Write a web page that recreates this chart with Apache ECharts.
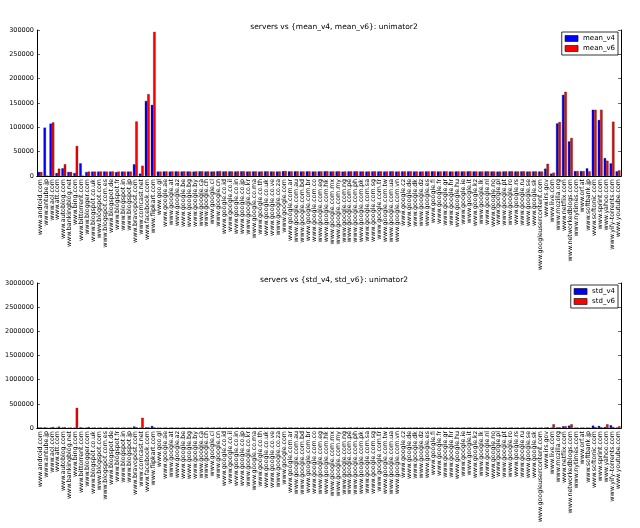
<!DOCTYPE html>
<html>
<head>
<meta charset="utf-8">
<script src="https://cdn.jsdelivr.net/npm/echarts@6/dist/echarts.min.js"></script>
<style>html,body{margin:0;padding:0;background:#fff}#c{width:640px;height:528px}</style>
</head>
<body>
<div id="c"></div>
<script>
var googleTlds = ['ae','at','az','be','bg','by','ca','ch','cl','cn','co.id','co.il','co.in','co.jp','co.kr','co.ma','co.th','co.uk','co.ve','co.za','com','com.ar','com.au','com.bd','com.br','com.co','com.eg','com.hk','com.mx','com.my','com.ng','com.pe','com.ph','com.pk','com.sa','com.sg','com.tr','com.tw','com.ua','com.vn','cz','de','dk','dz','es','fi','fr','gr','hr','hu','ie','it','kz','lk','nl','no','pl','pt','ro','rs','ru','se','sk'];
var categories = ['www.android.com','www.antube.jp','www.aol.com','www.att.com','www.autoblog.com','www.bankingblog.net','www.bing.com','www.bittorrent.com','www.blogger.com','www.blogspot.co.uk','www.blogspot.com','www.blogspot.com.es','www.blogspot.de','www.blogspot.fr','www.blogspot.in','www.blogspot.jp','www.bravopost.com','www.comcast.net','www.facebook.com','www.flipkart.com','www.goo.gl']
  .concat(googleTlds.map(function(t){return 'www.google.' + t;}))
  .concat(['www.googleusercontent.com','www.irs.gov','www.live.com','www.mozilla.org','www.netflix.com','www.networkedblogs.com','www.nytimes.com','www.orf.at','www.softbank.jp','www.softonic.com','www.sprint.com','www.yahoo.com','www.yify-torrents.com','www.youtube.com']);

var meanV4 = [8200,99300,107500,6000,15700,8200,6000,26000,8000,9000,
  9000,9200,9000,8000,9000,9100,24000,4800,154000,146000,
  9000,
  9200,9000,9400,9100,9300,9000,9500,9200,9100,9600,
  9300,9400,9200,9500,9100,9300,9000,9400,9200,9100,
  9800,9300,9500,9200,9400,9100,9300,9600,9200,9400,
  9000,9300,9500,9200,9100,9400,9300,9200,9500,9100,
  9300,9400,9200,9000,9300,9500,9200,9400,9100,9300,
  9200,9500,9300,9100,9400,9200,9000,9300,9500,9200,
  9400,9100,9300,
  9200,15000,4800,108000,166600,71000,10000,10000,15600,136000,115000,36700,25800,9500];
var meanV6 = [8200,0,110000,15000,24000,8200,61600,0,9000,9000,
  9200,9000,9300,9000,9100,9000,112000,21000,168000,296000,
  9000,
  9400,9300,9200,9500,9100,9400,9600,9300,9200,9800,
  9400,9300,9500,9600,9200,9400,9300,9500,9100,9300,
  10200,9400,9600,9300,9500,9300,9400,9800,9300,9500,
  9200,9400,9600,9300,9200,9500,9400,9300,9600,9200,
  9400,9500,9300,9200,9400,9600,9300,9500,9200,9400,
  9300,9600,9400,9200,9500,9300,9100,9400,9600,9300,
  9500,9200,9400,
  9100,25000,6800,111000,173000,78000,10000,10000,9500,136000,136000,31300,111500,11500];

var stdV4 = [9000,12000,8000,6000,10000,5000,6000,14000,8000,5000,
  5000,6000,5000,5000,6000,5000,30000,4000,12000,40000,
  5000,
  4000,5000,4000,6000,5000,4000,5000,6000,4000,5000,
  5000,4000,6000,5000,4000,5000,6000,4000,5000,4000,
  7000,5000,4000,6000,5000,4000,5000,6000,4000,5000,
  4000,5000,6000,4000,5000,4000,5000,6000,4000,5000,
  5000,4000,6000,5000,4000,5000,6000,4000,5000,4000,
  5000,6000,4000,5000,4000,5000,6000,4000,5000,4000,
  5000,4000,6000,
  5000,8000,4000,12000,35000,48000,6000,6000,8000,48000,41000,20000,55000,8000];
var stdV6 = [10000,0,20000,28000,15000,6000,415000,0,20000,9000,
  8000,9000,8000,7000,9000,8000,15000,210000,14000,12000,
  7000,
  8000,9000,7000,10000,8000,7000,9000,10000,8000,9000,
  9000,8000,10000,9000,8000,9000,10000,8000,9000,8000,
  12000,9000,8000,10000,9000,8000,9000,10000,8000,9000,
  8000,9000,10000,8000,9000,8000,9000,10000,8000,9000,
  9000,8000,10000,9000,8000,9000,10000,8000,9000,8000,
  9000,10000,8000,9000,8000,9000,10000,8000,9000,8000,
  9000,8000,10000,
  8000,14000,76000,14000,35000,76000,8000,8000,6000,20000,15000,76000,20000,35000];

var FONT = 'DejaVu Sans';
var grids = [
  {left: 37, right: 19, top: 30, height: 146, containLabel: false, outerBoundsMode: 'none'},
  {left: 37, right: 19, top: 283, height: 145, containLabel: false, outerBoundsMode: 'none'}
];
function xAxes(gi) {
  return [{
    type: 'category', gridIndex: gi, data: categories, position: 'bottom',
    axisLine: {lineStyle: {color: '#000', width: 1}},
    axisTick: {inside: true, length: 3, alignWithLabel: true, lineStyle: {color: '#000', width: 0.6}},
    axisLabel: {rotate: 90, interval: 0, fontSize: 6.3, color: '#000', fontFamily: FONT, margin: 3}
  }, {
    type: 'category', gridIndex: gi, data: categories, position: 'top',
    axisLine: {lineStyle: {color: '#000', width: 1}},
    axisTick: {inside: true, length: 3, alignWithLabel: true, lineStyle: {color: '#000', width: 0.6}},
    axisLabel: {show: false}
  }];
}
function yAxes(gi, max, interval) {
  return [{
    type: 'value', gridIndex: gi, min: 0, max: max, interval: interval, position: 'left',
    name: 'time (usecs)', nameLocation: 'middle', nameGap: 28, nameRotate: 90,
    nameTextStyle: {fontSize: 6.5, color: '#000', fontFamily: FONT},
    axisLine: {show: true, lineStyle: {color: '#000', width: 1}},
    axisTick: {show: true, inside: true, length: 3, lineStyle: {color: '#000', width: 0.6}},
    axisLabel: {fontSize: 6.5, color: '#000', fontFamily: FONT, margin: 3,
      formatter: function (v) { return String(v); }},
    splitLine: {show: false}
  }, {
    type: 'value', gridIndex: gi, min: 0, max: max, interval: interval, position: 'right',
    axisLine: {show: true, lineStyle: {color: '#000', width: 1}},
    axisTick: {show: true, inside: true, length: 3, lineStyle: {color: '#000', width: 0.6}},
    axisLabel: {show: false},
    splitLine: {show: false}
  }];
}
function bar(name, data, color, xi, yi) {
  return {
    name: name, type: 'bar', data: data, xAxisIndex: xi, yAxisIndex: yi,
    barWidth: '40%', barGap: '0%',
    itemStyle: {color: color, borderColor: '#000', borderWidth: 0.3},
    emphasis: {disabled: true}, animation: false
  };
}
function legend(names, top) {
  return {
    data: names, orient: 'vertical', right: 22, top: top, icon: 'rect',
    itemWidth: 13, itemHeight: 6, itemGap: 3,
    itemStyle: {borderColor: '#000', borderWidth: 0.6},
    borderColor: '#000', borderWidth: 0.8, padding: [3, 3, 3, 3],
    backgroundColor: '#fff',
    textStyle: {fontSize: 7, color: '#000', fontFamily: FONT}
  };
}
var chart = echarts.init(document.getElementById('c'), null, {renderer: 'canvas'});
chart.setOption({
  backgroundColor: '#fff',
  animation: false,
  title: [
    {text: 'servers vs {mean_v4, mean_v6}: unimator2', left: 329, top: 18, textAlign: 'center',
     textStyle: {fontSize: 7.5, fontWeight: 'normal', color: '#000', fontFamily: FONT}},
    {text: 'servers vs {std_v4, std_v6}: unimator2', left: 329, top: 271, textAlign: 'center',
     textStyle: {fontSize: 7.5, fontWeight: 'normal', color: '#000', fontFamily: FONT}}
  ],
  legend: [legend(['mean_v4', 'mean_v6'], 32), legend(['std_v4', 'std_v6'], 285)],
  grid: grids,
  xAxis: xAxes(0).concat(xAxes(1)),
  yAxis: yAxes(0, 300000, 50000).concat(yAxes(1, 3000000, 500000)),
  series: [
    bar('mean_v4', meanV4, '#0000ff', 0, 0),
    bar('mean_v6', meanV6, '#ff0000', 0, 0),
    bar('std_v4', stdV4, '#0000ff', 2, 2),
    bar('std_v6', stdV6, '#ff0000', 2, 2)
  ]
});
</script>
</body>
</html>
